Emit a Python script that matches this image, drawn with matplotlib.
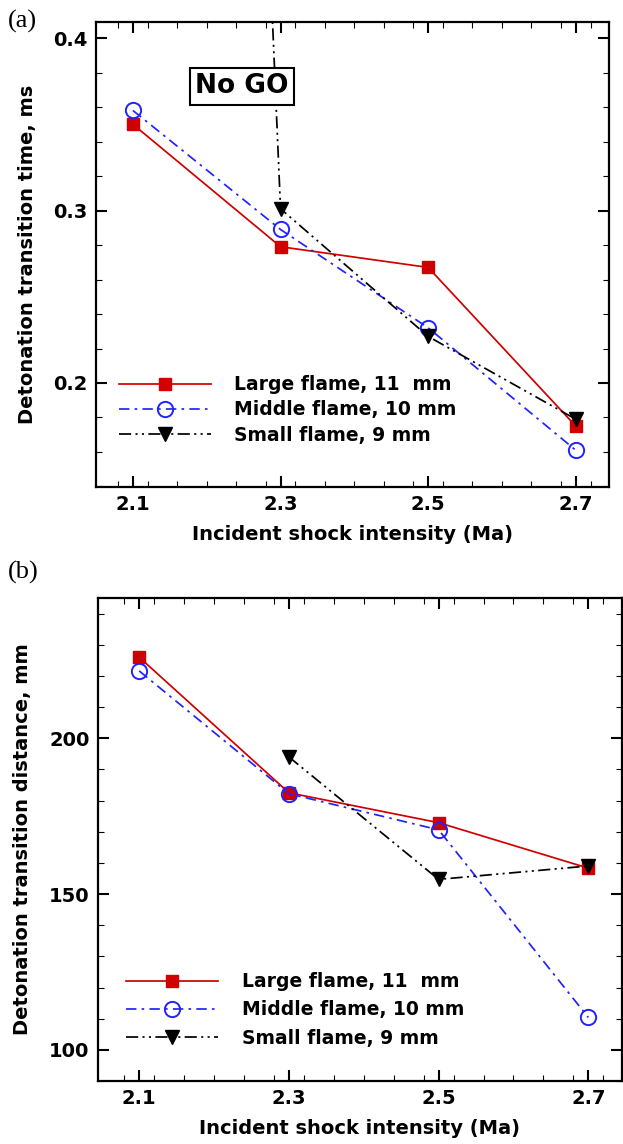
import matplotlib
matplotlib.use("Agg")
import matplotlib.pyplot as plt
from matplotlib.ticker import MultipleLocator
import numpy as np

# incident shock Mach number
mach = [2.1, 2.3, 2.5, 2.7]

# (a) detonation transition time, ms  (small flame at 2.1 = "No GO", far off scale)
large_time = [0.350, 0.279, 0.267, 0.175]
middle_time = [0.358, 0.289, 0.232, 0.161]
small_time = [2.3, 0.301, 0.227, 0.179]

# (b) detonation transition distance, mm
large_dist = [226.0, 182.5, 172.9, 158.3]
middle_dist = [221.6, 182.2, 170.6, 110.4]
small_dist = [np.nan, 194.0, 154.7, 159.0]

labels = ["Large flame, 11  mm", "Middle flame, 10 mm", "Small flame, 9 mm"]

plt.rcParams["font.family"] = "DejaVu Sans"
plt.rcParams["font.weight"] = "bold"

red = "#d00000"
blue = "#2222ff"
lw = 1.25


def style_axes(ax, xlim, ylim, ymajor, yminor):
    ax.set_xlim(xlim)
    ax.set_ylim(ylim)
    ax.set_xticks(mach)
    ax.xaxis.set_minor_locator(MultipleLocator(0.04))
    ax.yaxis.set_major_locator(MultipleLocator(ymajor))
    ax.yaxis.set_minor_locator(MultipleLocator(yminor))
    ax.tick_params(which="both", direction="in", top=True, right=True, labelsize=14)
    ax.tick_params(which="major", length=8, width=1.5, pad=6)
    ax.tick_params(which="minor", length=4, width=0.8)
    for s in ax.spines.values():
        s.set_linewidth(1.6)
    for t in ax.get_xticklabels() + ax.get_yticklabels():
        t.set_fontweight("bold")
    ax.set_xlabel("Incident shock intensity (Ma)", fontsize=14, fontweight="bold", labelpad=8)


def draw(ax, large, middle, small):
    ax.plot(mach, large, color=red, lw=lw, marker="s", ms=8, mfc=red, mec=red, label=labels[0])
    ax.plot(mach, middle, color=blue, lw=lw, ls=(0, (6, 3, 1.5, 3)), marker="o", ms=11,
            mfc="none", mec=blue, mew=1.4, label=labels[1])
    ax.plot(mach, small, color="black", lw=lw, ls=(0, (7, 2.5, 1.2, 2.5, 1.2, 2.5)),
            marker="v", ms=10, mfc="black", mec="black", label=labels[2])


fig = plt.figure(figsize=(6.23, 11.44), dpi=100)

# panel (a)
ax1 = fig.add_axes([96 / 623, 1 - 487 / 1144, 513 / 623, 465 / 1144])
draw(ax1, large_time, middle_time, small_time)
style_axes(ax1, (2.05, 2.745), (0.1397, 0.4093), 0.1, 0.02)
ax1.yaxis.set_major_formatter(matplotlib.ticker.FormatStrFormatter("%.1f"))
ax1.set_ylabel("Detonation transition time, ms", fontsize=14, fontweight="bold", labelpad=12)
ax1.text(2.248, 0.372, "No GO", fontsize=19, fontweight="bold", ha="center", va="center",
         zorder=5, bbox=dict(boxstyle="square,pad=0.2", fc="white", ec="black", lw=1.5))
ax1.legend(loc="center left", bbox_to_anchor=(0.045, 0.1656), frameon=False,
           borderpad=0, borderaxespad=0, handlelength=4.9, handletextpad=1.22, labelspacing=0.34,
           prop={"weight": "bold", "size": 13.5})

# panel (b)
ax2 = fig.add_axes([98 / 623, 1 - 1081 / 1144, 524 / 623, 483 / 1144])
draw(ax2, large_dist, middle_dist, small_dist)
style_axes(ax2, (2.045, 2.745), (90, 245), 50, 10)
ax2.set_ylabel("Detonation transition distance, mm", fontsize=14, fontweight="bold", labelpad=12.5)
ax2.legend(loc="center left", bbox_to_anchor=(0.053, 0.147), frameon=False,
           borderpad=0, borderaxespad=0, handlelength=4.9, handletextpad=1.3, labelspacing=0.49,
           prop={"weight": "bold", "size": 13.5})

fig.text(8 / 623, 1 - 21 / 1144, "(a)", family="Liberation Serif", fontsize=19,
         fontweight="normal", ha="left", va="center")
fig.text(8 / 623, 1 - 572 / 1144, "(b)", family="Liberation Serif", fontsize=19,
         fontweight="normal", ha="left", va="center")

fig.savefig("out.png", dpi=100)
